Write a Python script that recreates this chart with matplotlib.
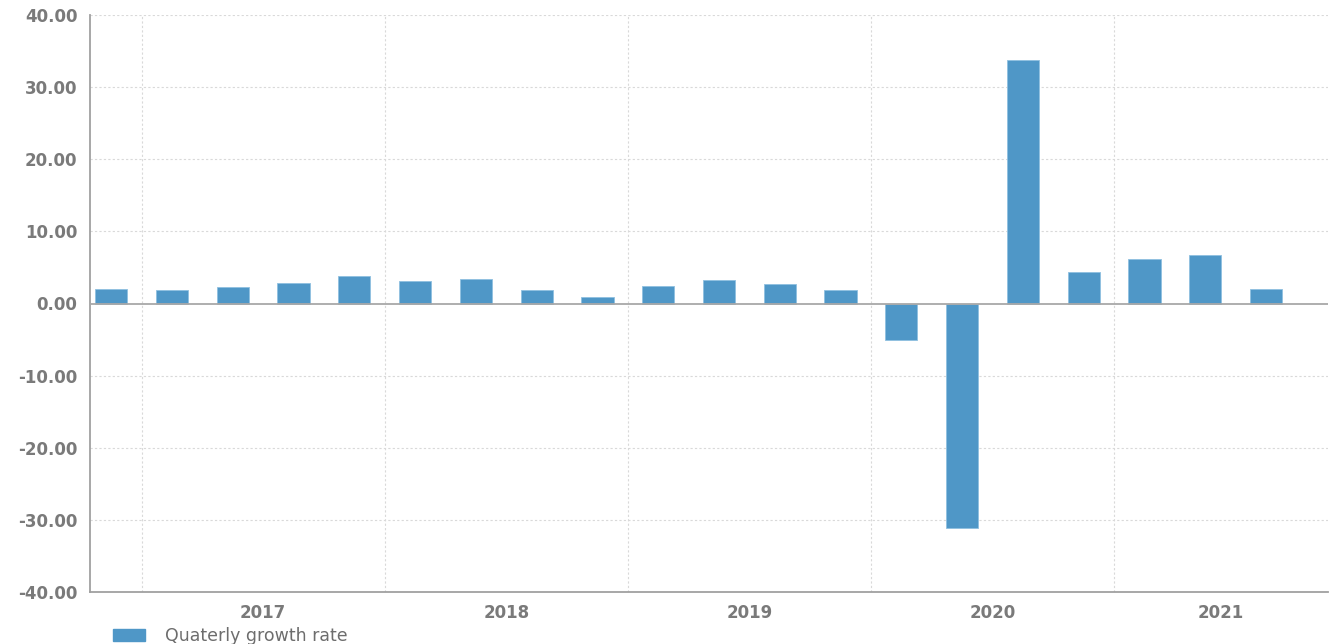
import numpy as np
import matplotlib
matplotlib.use("Agg")
import matplotlib.pyplot as plt
from matplotlib.patches import Patch

# quarterly data, 2016 Q4 .. 2021 Q3
quarters = ["2016Q4",
            "2017Q1", "2017Q2", "2017Q3", "2017Q4",
            "2018Q1", "2018Q2", "2018Q3", "2018Q4",
            "2019Q1", "2019Q2", "2019Q3", "2019Q4",
            "2020Q1", "2020Q2", "2020Q3", "2020Q4",
            "2021Q1", "2021Q2", "2021Q3"]
growth = [2.0, 1.85, 2.3, 2.8, 3.8, 3.1, 3.4, 1.85, 0.9, 2.4,
          3.2, 2.65, 1.85, -5.1, -31.1, 33.75, 4.43, 6.19, 6.74, 1.99]
years = ["2017", "2018", "2019", "2020", "2021"]
yticks = [-40, -30, -20, -10, 0, 10, 20, 30, 40]

bar_color = "#4f97c7"
text_color = "#7a7a7a"
grid_color = "#d9d9d9"

fig = plt.figure(figsize=(13.3, 6.44), dpi=100)
ax = fig.add_axes([90 / 1330, 1 - 592 / 644, 1238 / 1330, 577 / 644])

x = np.arange(len(quarters))
ax.bar(x, growth, width=0.53, color=bar_color, edgecolor="#8fc0e0",
       linewidth=0.6, zorder=3)

xmin, xmax = -0.35, len(quarters) + 0.02
ax.set_xlim(xmin, xmax)
ax.set_ylim(yticks[0], yticks[-1])

# horizontal dotted grid
ax.set_yticks(yticks)
ax.set_yticklabels([f"{v:.2f}" for v in yticks])
for v in yticks[1:]:
    if v != 0:
        ax.axhline(v, color=grid_color, lw=0.8, ls=(0, (2, 2)), zorder=1)
ax.axhline(0, color="#a8a8a8", lw=1.3, zorder=4)

# year boundaries
bounds = [i - 0.5 for i, q in enumerate(quarters) if q.endswith("Q1")]
for b in bounds:
    ax.axvline(b, color=grid_color, lw=0.8, ls=(0, (2, 2)), zorder=1)

# year labels centred on the visible part of each year
edges = bounds + [xmax]
centers = [(edges[i] + edges[i + 1]) / 2 for i in range(len(years))]
ax.set_xticks(centers)
ax.set_xticklabels(years)

for s in ["top", "right"]:
    ax.spines[s].set_visible(False)
for s in ["left", "bottom"]:
    ax.spines[s].set_color("#a0a0a0")
    ax.spines[s].set_linewidth(1.3)

ax.tick_params(axis="both", length=0, colors=text_color, labelsize=12)
ax.tick_params(axis="y", pad=9)
ax.tick_params(axis="x", pad=9)
for lab in ax.get_xticklabels() + ax.get_yticklabels():
    lab.set_fontweight("bold")
    lab.set_color(text_color)

# legend below the plot
handle = Patch(facecolor=bar_color, edgecolor=bar_color)
fig.legend([handle], ["Quaterly growth rate"], loc="lower left",
           bbox_to_anchor=(97 / 1330, -0.026), frameon=False,
           handlelength=1.85, handleheight=0.75, handletextpad=1.15,
           prop={"size": 12.5, "weight": "medium"}, labelcolor="#6d6d6d")

fig.savefig("out.png", dpi=100)
